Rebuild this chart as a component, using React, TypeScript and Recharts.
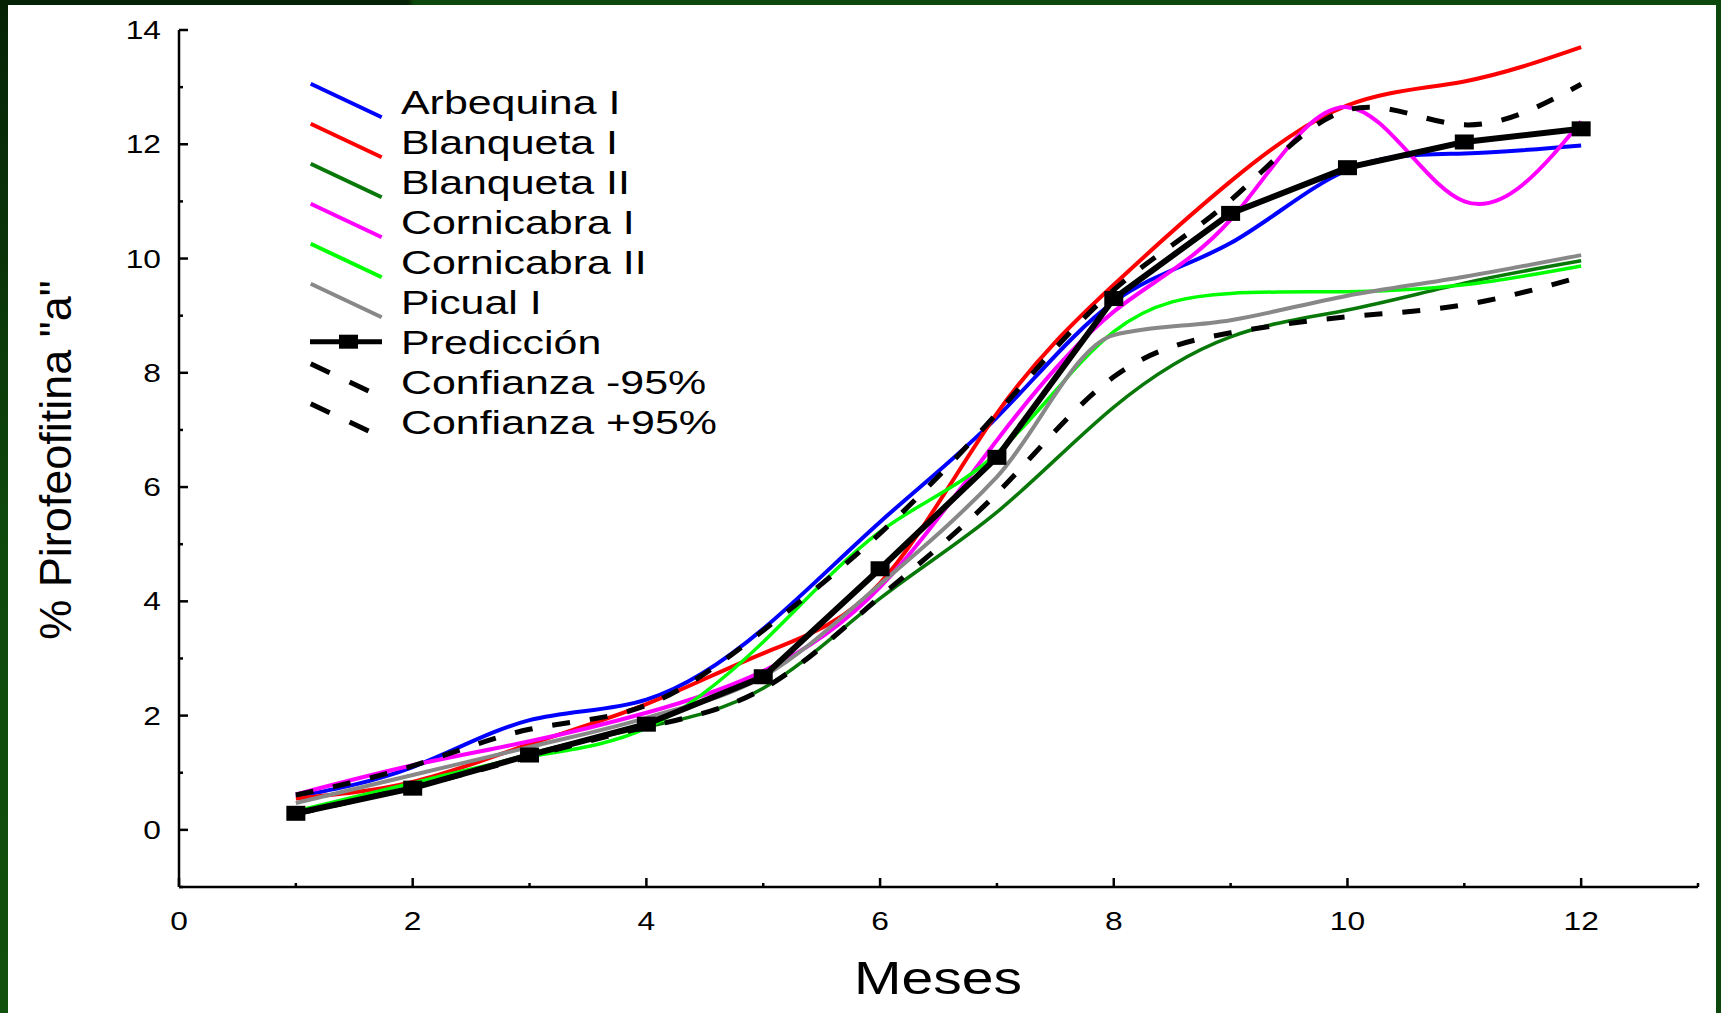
import React from 'react';
import { LineChart, Line, XAxis, YAxis, Legend } from 'recharts';

// months on the x axis
const months = [1, 2, 3, 4, 5, 6, 7, 8, 9, 10, 11, 12];

// % pirofeofitina "a" per variety
const arbequinaI = [0.58, 1.1, 1.92, 2.28, 3.52, 5.39, 7.22, 9.24, 10.27, 11.55, 11.84, 11.98];
const blanquetaI = [0.55, 0.84, 1.5, 2.2, 3.09, 4.32, 7.29, 9.54, 11.35, 12.68, 13.1, 13.7];
const blanquetaII = [0.3, 0.75, 1.33, 1.8, 2.48, 4.05, 5.56, 7.4, 8.63, 9.1, 9.57, 9.96];
const cornicabraI = [0.62, 1.13, 1.55, 2.05, 2.78, 4.25, 6.82, 9.07, 10.68, 12.65, 11.0, 12.4];
const cornicabraII = [0.33, 0.82, 1.28, 1.78, 3.29, 5.22, 6.59, 8.72, 9.39, 9.42, 9.54, 9.87];
const picualI = [0.47, 0.96, 1.45, 1.96, 2.68, 4.3, 6.18, 8.66, 8.92, 9.35, 9.68, 10.06];
const prediccion = [0.29, 0.73, 1.31, 1.85, 2.68, 4.57, 6.52, 9.3, 10.79, 11.59, 12.04, 12.27];
const confMenos = [0.28, 0.75, 1.28, 1.8, 2.47, 4.08, 5.89, 7.93, 8.7, 8.98, 9.19, 9.68];
const confMas = [0.61, 1.12, 1.76, 2.18, 3.49, 5.19, 7.29, 9.45, 11.02, 12.6, 12.34, 13.05];

const xTicks = [0, 1, 2, 3, 4, 5, 6, 7, 8, 9, 10, 11, 12, 13];
const yTicks = [-1, 0, 1, 2, 3, 4, 5, 6, 7, 8, 9, 10, 11, 12, 13, 14];

const data = months.map((m, i) => ({
  mes: m,
  arbequinaI: arbequinaI[i],
  blanquetaI: blanquetaI[i],
  blanquetaII: blanquetaII[i],
  cornicabraI: cornicabraI[i],
  cornicabraII: cornicabraII[i],
  picualI: picualI[i],
  prediccion: prediccion[i],
  confMenos: confMenos[i],
  confMas: confMas[i],
}));

const FONT = '"Liberation Sans", Arial, Helvetica, sans-serif';

type Kind = 'curve' | 'pred' | 'conf';
interface SeriesDef {
  key: string;
  name: string;
  color: string;
  width: number;
  kind: Kind;
  curve?: 'natural' | 'monotone';
}

const series: SeriesDef[] = [
  { key: 'arbequinaI', name: 'Arbequina I', color: '#0000ff', width: 4, kind: 'curve' },
  { key: 'blanquetaI', name: 'Blanqueta I', color: '#ff0000', width: 4, kind: 'curve' },
  { key: 'blanquetaII', name: 'Blanqueta II', color: '#087808', width: 3.5, kind: 'curve' },
  { key: 'cornicabraI', name: 'Cornicabra I', color: '#ff00ff', width: 4, kind: 'curve' },
  { key: 'cornicabraII', name: 'Cornicabra II', color: '#00ff00', width: 3.5, kind: 'curve' },
  { key: 'picualI', name: 'Picual I', color: '#888888', width: 4, kind: 'curve', curve: 'monotone' },
  { key: 'prediccion', name: 'Predicción', color: '#000000', width: 6, kind: 'pred' },
  { key: 'confMenos', name: 'Confianza -95%', color: '#000000', width: 5, kind: 'conf' },
  { key: 'confMas', name: 'Confianza +95%', color: '#000000', width: 5, kind: 'conf' },
];

// ticks point into the plot, labels only on even values
function makeTick(side: 'left' | 'bottom' | 'top' | 'right', withLabels: boolean) {
  return (props: any) => {
    const { x, y, payload } = props;
    const v = Number(payload.value);
    const major = v % 2 === 0;
    const len = major ? 9 : 4;
    let line;
    if (side === 'left') line = <line x1={x} y1={y} x2={x + len} y2={y} />;
    else if (side === 'right') line = <line x1={x} y1={y} x2={x - len} y2={y} />;
    else if (side === 'top') line = <line x1={x} y1={y} x2={x} y2={y + len} />;
    else line = <line x1={x} y1={y} x2={x} y2={y - len} />;

    let label = null;
    if (withLabels && major && v >= 0) {
      if (side === 'left') {
        label = (
          <text transform={`translate(${x - 18},${y + 9}) scale(1.27,1)`} textAnchor="end" fontSize={25} fontFamily={FONT} fill="#000">
            {v}
          </text>
        );
      } else if (side === 'bottom') {
        label = (
          <text transform={`translate(${x},${y + 43}) scale(1.27,1)`} textAnchor="middle" fontSize={25} fontFamily={FONT} fill="#000">
            {v}
          </text>
        );
      }
    }
    return (
      <g>
        <g stroke="#000" strokeWidth={2.5}>{line}</g>
        {label}
      </g>
    );
  };
}

const SquareDot = (props: any) => {
  const { cx, cy, index } = props;
  if (cx == null || cy == null) return <g key={index} />;
  return <rect key={index} x={cx - 9.5} y={cy - 7.5} width={19} height={15} fill="#000" />;
};

const renderLegend = () => (
  <svg width={420} height={380} style={{ overflow: 'visible' }}>
    {series.map((s, i) => {
      const c = 31.7 + 40 * i;
      let symbol;
      if (s.kind === 'pred') {
        symbol = (
          <g>
            <line x1={10} y1={c} x2={82} y2={c} stroke="#000" strokeWidth={5} />
            <rect x={39} y={c - 7} width={19} height={14} fill="#000" />
          </g>
        );
      } else {
        symbol = (
          <line
            x1={10.7}
            y1={c - 18}
            x2={81.7}
            y2={c + 15.6}
            stroke={s.color}
            strokeWidth={s.kind === 'conf' ? 5 : 4}
            strokeDasharray={s.kind === 'conf' ? '21 22' : undefined}
          />
        );
      }
      return (
        <g key={s.key}>
          {symbol}
          <text transform={`translate(101,${c + 11.8}) scale(1.3,1)`} fontSize={33} fontFamily={FONT} fill="#000">
            {s.name}
          </text>
        </g>
      );
    })}
  </svg>
);

export default function App() {
  const axisLine = { stroke: '#000', strokeWidth: 2.5 };
  return (
    <div style={{ position: 'absolute', left: 0, top: 0, width: 1721, height: 1013, background: '#fff', overflow: 'hidden' }}>
      <LineChart width={1721} height={1013} data={data} margin={{ top: 30, right: 23, bottom: 66, left: 119 }}>
        <XAxis
          dataKey="mes"
          type="number"
          domain={[0, 13]}
          ticks={xTicks}
          interval={0}
          height={60}
          tickSize={0}
          tickMargin={0}
          axisLine={axisLine}
          tickLine={false}
          tick={makeTick('bottom', true)}
          label={() => (
            <text transform="translate(938,994) scale(1.24,1)" textAnchor="middle" fontSize={46} fontFamily={FONT} fill="#000">
              Meses
            </text>
          )}
        />
        <XAxis
          xAxisId="top"
          orientation="top"
          dataKey="mes"
          type="number"
          domain={[0, 13]}
          ticks={xTicks}
          interval={0}
          height={0}
          tickSize={0}
          tickMargin={0}
          axisLine={axisLine}
          tickLine={false}
          tick={makeTick('top', false)}
        />
        <YAxis
          type="number"
          domain={[-1, 14]}
          ticks={yTicks}
          interval={0}
          width={60}
          tickSize={0}
          tickMargin={0}
          axisLine={axisLine}
          tickLine={false}
          tick={makeTick('left', true)}
          label={() => (
            <text transform="translate(71,460) rotate(-90)" textAnchor="middle" fontSize={45} fontFamily={FONT} fill="#000">
              % Pirofeofitina "a"
            </text>
          )}
        />
        <YAxis
          yAxisId="right"
          orientation="right"
          type="number"
          domain={[-1, 14]}
          ticks={yTicks}
          interval={0}
          width={0}
          tickSize={0}
          tickMargin={0}
          axisLine={axisLine}
          tickLine={false}
          tick={makeTick('right', false)}
        />
        <Legend
          layout="horizontal"
          verticalAlign="middle"
          align="center"
          content={renderLegend}
          wrapperStyle={{ left: 300, top: 70, width: 420, height: 380 }}
        />
        {series
          .filter((s) => s.kind === 'curve')
          .map((s) => (
            <Line
              key={s.key}
              type={s.curve || 'natural'}
              dataKey={s.key}
              name={s.name}
              stroke={s.color}
              strokeWidth={s.width}
              dot={false}
              activeDot={false}
              isAnimationActive={false}
            />
          ))}
        {series
          .filter((s) => s.kind === 'conf')
          .map((s) => (
            <Line
              key={s.key}
              type="natural"
              dataKey={s.key}
              name={s.name}
              stroke={s.color}
              strokeWidth={s.width}
              strokeDasharray="18 20"
              dot={false}
              activeDot={false}
              isAnimationActive={false}
            />
          ))}
        <Line
          type="linear"
          dataKey="prediccion"
          name="Predicción"
          stroke="#000"
          strokeWidth={6}
          dot={<SquareDot />}
          activeDot={false}
          isAnimationActive={false}
        />
      </LineChart>
      <div style={{ position: 'absolute', left: 0, top: 0, width: 1721, height: 5, background: 'linear-gradient(to right, #062206 0px, #062206 408px, #0c480b 414px, #0c480b 100%)' }} />
      <div style={{ position: 'absolute', left: 0, top: 0, width: 8, height: 1013, background: 'linear-gradient(to bottom, #062206, #0f4a0c 55%, #11500d)' }} />
      <div style={{ position: 'absolute', right: 0, top: 0, width: 5, height: 1013, background: '#0c480b' }} />
    </div>
  );
}
